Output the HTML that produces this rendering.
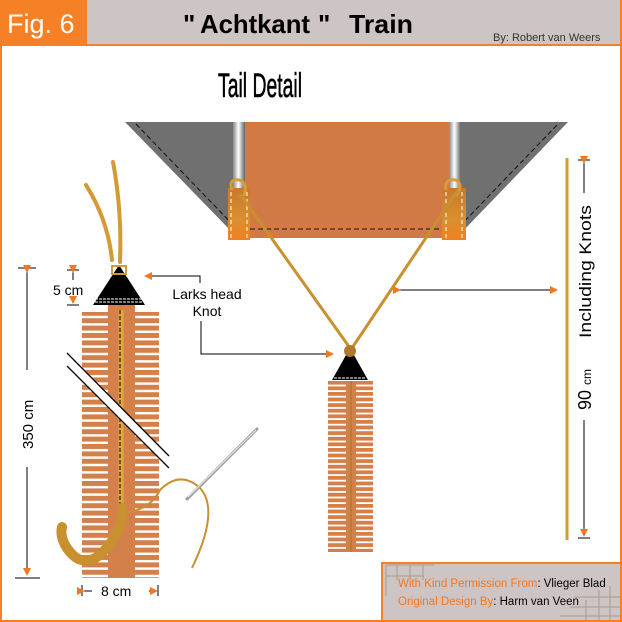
<!DOCTYPE html>
<html><head><meta charset="utf-8"><style>
html,body{margin:0;padding:0;background:#fff;}
svg{display:block;}
text{font-family:"Liberation Sans",sans-serif;}
</style></head><body>
<svg width="622" height="622" viewBox="0 0 622 622" xmlns="http://www.w3.org/2000/svg">
<defs>
<marker id="ar" markerWidth="8" markerHeight="8" refX="7" refY="4" orient="auto" markerUnits="userSpaceOnUse"><path d="M0,0 L8,4 L0,8 Z" fill="#f07820"/></marker>
<pattern id="stL" width="10" height="7.4" patternUnits="userSpaceOnUse"><rect width="10" height="7.4" fill="#d4804a"/><rect y="5" width="10" height="2.4" fill="#fff"/></pattern>
<pattern id="stR" width="10" height="5.6" patternUnits="userSpaceOnUse"><rect width="10" height="5.6" fill="#d4804a"/><rect y="3.8" width="10" height="1.8" fill="#fff"/></pattern>
<linearGradient id="pole" x1="0" x2="1"><stop offset="0" stop-color="#888"/><stop offset="0.5" stop-color="#fff"/><stop offset="1" stop-color="#777"/></linearGradient>
<linearGradient id="tab" x1="0" y1="0" x2="0" y2="1"><stop offset="0" stop-color="#c8782a"/><stop offset="0.6" stop-color="#d89030"/><stop offset="1" stop-color="#f08020"/></linearGradient>
</defs>
<rect x="0" y="0" width="87" height="45" fill="#f58025"/>
<rect x="87" y="0" width="535" height="45" fill="#cdc5c5"/>
<rect x="0" y="44" width="622" height="2" fill="#f58025"/>
<rect x="620" y="0" width="2" height="622" fill="#f58025"/>
<rect x="0" y="0" width="2" height="622" fill="#f58025"/>
<rect x="0" y="620" width="622" height="2" fill="#f58025"/>
<text x="7" y="33" font-size="27" fill="#fff">Fig. 6</text>
<g font-size="26" font-weight="bold" fill="#000">
<text x="183" y="33">"</text>
<text x="200" y="33" textLength="110" lengthAdjust="spacingAndGlyphs">Achtkant</text>
<text x="318" y="33">"</text>
<text x="349" y="33" textLength="64" lengthAdjust="spacingAndGlyphs">Train</text>
</g>
<text x="493" y="41" font-size="11" fill="#333">By:  Robert van Weers</text>
<text x="218" y="97" font-size="34" fill="#000" stroke="#000" stroke-width="0.6" textLength="84" lengthAdjust="spacingAndGlyphs">Tail Detail</text>

<polygon points="125,122 568,122 462,232 232,232" fill="#707070"/>
<polyline points="136,124 236,228 458,228 558,124" fill="none" stroke="#111" stroke-width="1" stroke-dasharray="5,3"/>
<rect x="245" y="122" width="206" height="116" fill="#d27a45"/>
<line x1="250" y1="229" x2="448" y2="229" stroke="#111" stroke-dasharray="5,3"/>
<rect x="233" y="122" width="11" height="70" fill="url(#pole)"/>
<rect x="449" y="122" width="11" height="70" fill="url(#pole)"/>
<rect x="228" y="188" width="22" height="52" fill="url(#tab)"/>
<rect x="442" y="188" width="24" height="52" fill="url(#tab)"/>
<g stroke="#fff" stroke-dasharray="4,3" stroke-width="1"><line x1="231" y1="192" x2="231" y2="238"/><line x1="247" y1="192" x2="247" y2="238"/><line x1="446" y1="192" x2="446" y2="238"/><line x1="462" y1="192" x2="462" y2="238"/></g>
<g fill="none" stroke="#d89a3a" stroke-width="3"><path d="M232,190 Q228,178 240,180 Q248,184 244,196"/><path d="M446,190 Q444,178 456,180 Q464,184 456,196"/></g>
<g stroke="#c8902f" stroke-width="3"><line x1="240" y1="194" x2="350" y2="348"/><line x1="458" y1="190" x2="352" y2="348"/></g>

<polygon points="350,348 368,380 332,380" fill="#000"/>
<line x1="334" y1="378" x2="366" y2="378" stroke="#fff" stroke-dasharray="3,1"/>
<circle cx="350" cy="351" r="6" fill="#b0782a"/>
<rect x="328" y="381" width="45" height="171" fill="url(#stR)"/>
<rect x="346" y="381" width="10" height="171" fill="#d4804a"/>
<line x1="351" y1="381" x2="351" y2="552" stroke="#b08020" stroke-width="1.5"/>

<g fill="none" stroke="#d49a36" stroke-width="4" stroke-linecap="round"><path d="M86,185 Q108,220 112,260"/><path d="M113,162 Q122,210 120,262"/></g>
<polygon points="119,265 145,305 93,305" fill="#000"/>
<line x1="95" y1="302" x2="143" y2="302" stroke="#fff" stroke-dasharray="3,1"/>
<line x1="95" y1="299" x2="143" y2="299" stroke="#fff" stroke-dasharray="3,1"/>
<rect x="112" y="266" width="14" height="8" fill="none" stroke="#d49a36" stroke-width="2"/>
<rect x="82" y="312" width="77" height="266" fill="url(#stL)"/>
<rect x="108" y="305" width="27" height="273" fill="#d4804a"/>
<line x1="121" y1="310" x2="121" y2="510" stroke="#e0a83c" stroke-width="5"/>
<line x1="120" y1="310" x2="120" y2="505" stroke="#000" stroke-width="1" stroke-dasharray="4,2"/>
<path d="M122,508 Q125,530 100,555 Q80,570 65,545 Q60,535 62,527" fill="none" stroke="#c8902f" stroke-width="10" stroke-linecap="round"/>
<path d="M126,512 Q150,510 160,490 Q180,470 200,488 Q220,510 192,568" fill="none" stroke="#c8902f" stroke-width="2"/>
<line x1="187" y1="499" x2="257" y2="429" stroke="#999" stroke-width="3" stroke-linecap="round"/>
<line x1="188" y1="497" x2="256" y2="430" stroke="#eee" stroke-width="1"/>
<polygon points="67,353 169,456 169,468 67,366" fill="#fff"/>
<line x1="67" y1="353" x2="169" y2="456" stroke="#000" stroke-width="1.3"/>
<line x1="67" y1="366" x2="169" y2="468" stroke="#000" stroke-width="1.3"/>

<g stroke="#000" stroke-width="1">
<line x1="18" y1="268" x2="36" y2="268"/><line x1="15" y1="578" x2="40" y2="578"/>
<line x1="27" y1="272" x2="27" y2="370" marker-start="url(#ar)"/>
<line x1="27" y1="467" x2="27" y2="575" marker-end="url(#ar)"/>
<line x1="67" y1="270" x2="79" y2="270"/><line x1="67" y1="305" x2="79" y2="305"/>
<line x1="73" y1="272" x2="73" y2="280" marker-start="url(#ar)"/>
<line x1="73" y1="296" x2="73" y2="303" marker-end="url(#ar)"/>
<line x1="82" y1="585" x2="82" y2="596"/><line x1="158" y1="585" x2="158" y2="596"/>
<line x1="84" y1="591" x2="92" y2="591" marker-start="url(#ar)"/>
<line x1="149" y1="591" x2="157" y2="591" marker-end="url(#ar)"/>
</g>
<text x="0" y="0" font-size="15" transform="translate(33,449) rotate(-90)">350 cm</text>
<text x="53" y="295" font-size="14">5 cm</text>
<text x="101" y="596" font-size="14">8 cm</text>

<text x="207" y="299" font-size="14" text-anchor="middle">Larks head</text>
<text x="207" y="316" font-size="14" text-anchor="middle">Knot</text>
<polyline points="200,283 200,276 145,276" fill="none" stroke="#000" marker-end="url(#ar)"/>
<polyline points="201,321 201,354 333,354" fill="none" stroke="#000" marker-end="url(#ar)"/>

<line x1="567" y1="158" x2="567" y2="540" stroke="#d49a36" stroke-width="3"/>
<line x1="400" y1="290" x2="557" y2="290" stroke="#000" marker-start="url(#ar)" marker-end="url(#ar)"/>
<g stroke="#000"><line x1="578" y1="160" x2="590" y2="160"/><line x1="578" y1="538" x2="590" y2="538"/>
<line x1="584" y1="163" x2="584" y2="193" marker-start="url(#ar)"/>
<line x1="584" y1="420" x2="584" y2="536" marker-end="url(#ar)"/></g>
<text x="0" y="0" font-size="18" transform="translate(591,410) rotate(-90)">90 <tspan font-size="12">cm</tspan></text>
<text x="0" y="0" font-size="17" transform="translate(591,338) rotate(-90)" textLength="133" lengthAdjust="spacingAndGlyphs">Including Knots</text>

<rect x="382" y="563" width="239" height="58" fill="#cdc5c5" stroke="#f58025" stroke-width="2"/>
<g stroke="#a89a8a" stroke-width="1" fill="none">
<line x1="386" y1="565" x2="386" y2="596"/><line x1="386" y1="565" x2="434" y2="565"/>
<line x1="386" y1="576" x2="424" y2="576"/><line x1="397" y1="565" x2="397" y2="580"/><line x1="410" y1="565" x2="410" y2="580"/><line x1="423" y1="565" x2="423" y2="580"/>
<line x1="610" y1="586" x2="610" y2="620"/><line x1="599" y1="590" x2="599" y2="620"/><line x1="586" y1="600" x2="586" y2="620"/>
<line x1="570" y1="607" x2="620" y2="607"/><line x1="575" y1="597" x2="620" y2="597"/><line x1="560" y1="616" x2="620" y2="616"/>
</g>
<text x="398" y="587" font-size="11.5" fill="#f07820">With Kind Permission From<tspan fill="#000">:  Vlieger  Blad</tspan></text>
<text x="398" y="605" font-size="11.5" fill="#f07820">Original Design By<tspan fill="#000">: Harm  van  Veen</tspan></text>
</svg>
</body></html>
